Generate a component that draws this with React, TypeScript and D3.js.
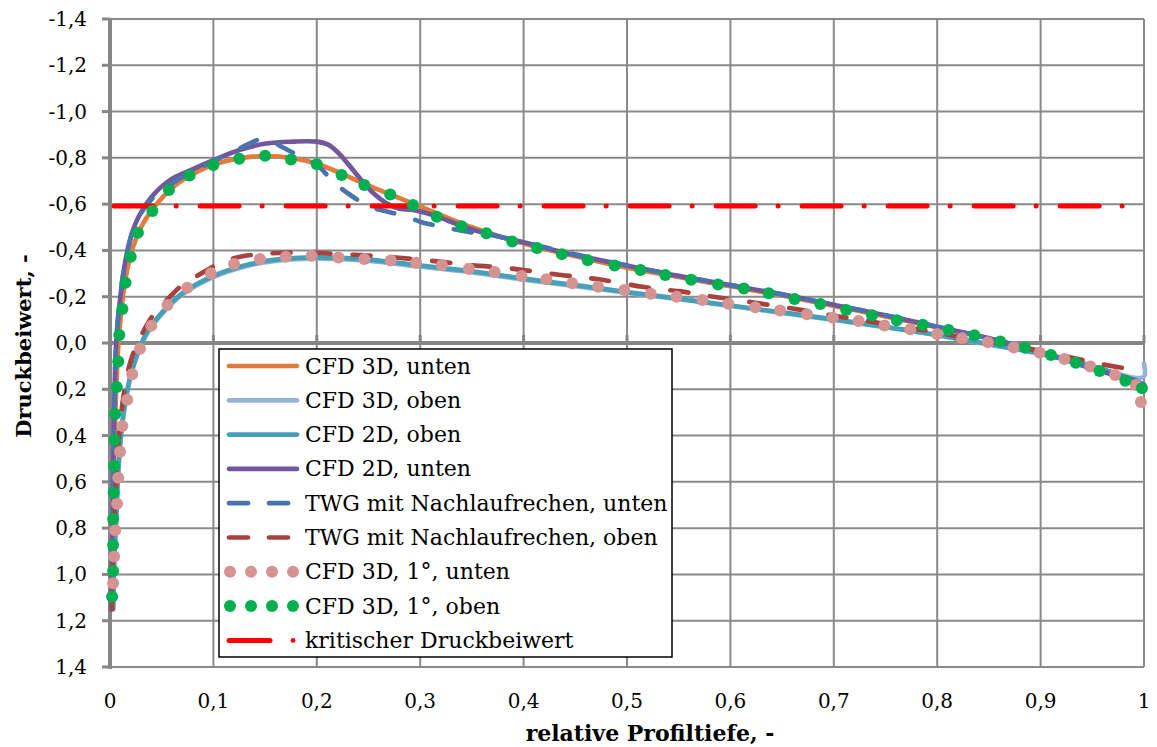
import React from 'react';
import * as d3 from 'd3';

type Pt = [number, number];

// relative Profiltiefe (x) vs. Druckbeiwert (cp)
const cfd3dUnten: Pt[] = [
  [0.0015, 1.12], [0.003, 0.8], [0.004, 0.5], [0.006, 0.2], [0.009, -0.05], [0.014, -0.25],
  [0.02, -0.38], [0.03, -0.5], [0.045, -0.6], [0.06, -0.67], [0.08, -0.73], [0.1, -0.77],
  [0.125, -0.797], [0.15, -0.808], [0.175, -0.8], [0.2, -0.775], [0.225, -0.73], [0.25, -0.68],
  [0.275, -0.635], [0.3, -0.59], [0.35, -0.5], [0.4, -0.43], [0.45, -0.375], [0.5, -0.325],
  [0.55, -0.285], [0.6, -0.245], [0.65, -0.205], [0.7, -0.16], [0.75, -0.115], [0.8, -0.068],
  [0.85, -0.02], [0.9, 0.04], [0.95, 0.105], [1.0, 0.185],
];

const cfd3dOben: Pt[] = [
  [0.003, 1.15], [0.004, 0.95], [0.006, 0.75], [0.008, 0.55], [0.011, 0.38], [0.015, 0.25],
  [0.02, 0.14], [0.027, 0.045], [0.035, -0.035], [0.05, -0.125], [0.07, -0.21], [0.1, -0.285],
  [0.13, -0.33], [0.16, -0.355], [0.2, -0.364], [0.25, -0.355], [0.3, -0.33], [0.35, -0.305],
  [0.4, -0.274], [0.45, -0.246], [0.5, -0.217], [0.55, -0.189], [0.6, -0.16], [0.65, -0.13],
  [0.7, -0.1], [0.75, -0.068], [0.8, -0.033], [0.85, 0.007], [0.9, 0.047], [0.95, 0.1],
  [0.99, 0.15], [1.0, 0.145], [1.0, 0.088],
];

const cfd2dOben: Pt[] = [
  [0.003, 1.15], [0.004, 0.95], [0.006, 0.75], [0.008, 0.55], [0.011, 0.38], [0.015, 0.25],
  [0.02, 0.14], [0.027, 0.04], [0.035, -0.04], [0.05, -0.13], [0.07, -0.215], [0.1, -0.29],
  [0.13, -0.335], [0.16, -0.36], [0.2, -0.37], [0.25, -0.36], [0.3, -0.335], [0.35, -0.31],
  [0.4, -0.278], [0.45, -0.25], [0.5, -0.22], [0.55, -0.192], [0.6, -0.162], [0.65, -0.132],
  [0.7, -0.102], [0.75, -0.07], [0.8, -0.035], [0.85, 0.005], [0.9, 0.045], [0.95, 0.1],
  [0.99, 0.16], [1.0, 0.18],
];

const cfd2dUnten: Pt[] = [
  [0.001, 1.15], [0.002, 0.9], [0.003, 0.6], [0.004, 0.3], [0.006, 0.0], [0.01, -0.2],
  [0.016, -0.38], [0.025, -0.52], [0.04, -0.63], [0.058, -0.704], [0.077, -0.745], [0.1, -0.79],
  [0.126, -0.835], [0.151, -0.862], [0.177, -0.87], [0.2, -0.87], [0.211, -0.857], [0.22, -0.825],
  [0.23, -0.775], [0.242, -0.71], [0.254, -0.65], [0.267, -0.605], [0.28, -0.58], [0.293, -0.575],
  [0.312, -0.553], [0.35, -0.49], [0.4, -0.435], [0.45, -0.38], [0.5, -0.335], [0.55, -0.29],
  [0.6, -0.25], [0.65, -0.21], [0.7, -0.165], [0.75, -0.12], [0.8, -0.07], [0.85, -0.02],
  [0.9, 0.04], [0.95, 0.11], [1.0, 0.18],
];

const twgUnten: Pt[] = [
  [0.001, 1.15], [0.002, 0.9], [0.003, 0.6], [0.004, 0.3], [0.006, 0.0], [0.01, -0.2],
  [0.016, -0.38], [0.025, -0.52], [0.04, -0.62], [0.06, -0.69], [0.08, -0.74], [0.1, -0.785],
  [0.125, -0.84], [0.15, -0.884], [0.166, -0.848], [0.18, -0.815], [0.2, -0.77], [0.216, -0.697],
  [0.23, -0.647], [0.25, -0.592], [0.266, -0.57], [0.285, -0.549], [0.303, -0.52], [0.322, -0.502],
  [0.34, -0.485], [0.37, -0.465], [0.4, -0.435], [0.45, -0.383], [0.5, -0.335], [0.55, -0.29],
  [0.6, -0.25], [0.65, -0.21], [0.7, -0.165], [0.75, -0.12], [0.8, -0.07], [0.85, -0.02],
  [0.9, 0.04], [0.95, 0.11], [1.0, 0.17],
];

const twgOben: Pt[] = [
  [0.002, 1.15], [0.003, 0.9], [0.005, 0.7], [0.007, 0.5], [0.011, 0.3], [0.016, 0.15],
  [0.022, 0.05], [0.03, -0.03], [0.04, -0.11], [0.055, -0.186], [0.07, -0.25], [0.09, -0.305],
  [0.106, -0.344], [0.126, -0.373], [0.145, -0.384], [0.17, -0.39], [0.2, -0.39], [0.22, -0.384],
  [0.25, -0.378], [0.3, -0.36], [0.357, -0.333], [0.378, -0.327], [0.4, -0.315], [0.436, -0.294],
  [0.457, -0.284], [0.477, -0.272], [0.515, -0.243], [0.533, -0.232], [0.554, -0.222],
  [0.573, -0.207], [0.61, -0.183], [0.668, -0.143], [0.705, -0.114], [0.725, -0.1], [0.8, -0.045],
  [0.841, -0.01], [0.873, 0.01], [0.9, 0.035], [0.94, 0.073], [0.955, 0.088], [0.984, 0.111],
];

const cfd3d1Unten: Pt[] = [
  [0.003, 1.038], [0.004, 0.923], [0.005, 0.809], [0.0068, 0.695], [0.008, 0.582], [0.0097, 0.47],
  [0.012, 0.359], [0.0167, 0.245], [0.0215, 0.135], [0.029, 0.025], [0.04, -0.075], [0.0556, -0.164],
  [0.0747, -0.239], [0.0975, -0.301], [0.12, -0.341], [0.145, -0.363], [0.17, -0.373], [0.195, -0.377],
  [0.221, -0.369], [0.246, -0.363], [0.2715, -0.356], [0.296, -0.347], [0.321, -0.337], [0.347, -0.321],
  [0.372, -0.307], [0.398, -0.289], [0.422, -0.275], [0.447, -0.258], [0.472, -0.243], [0.4975, -0.229],
  [0.523, -0.213], [0.548, -0.2], [0.573, -0.186], [0.598, -0.17], [0.624, -0.154], [0.648, -0.14],
  [0.674, -0.124], [0.699, -0.109], [0.724, -0.095], [0.749, -0.076], [0.774, -0.059], [0.8, -0.039],
  [0.824, -0.02], [0.849, -0.003], [0.874, 0.019], [0.899, 0.042], [0.923, 0.069], [0.948, 0.102],
  [0.972, 0.138], [0.992, 0.181], [0.997, 0.255],
];

const cfd3d1Oben: Pt[] = [
  [0.002, 1.096], [0.003, 0.985], [0.003, 0.873], [0.003, 0.76], [0.0035, 0.647], [0.004, 0.531],
  [0.0045, 0.419], [0.005, 0.307], [0.0065, 0.19], [0.008, 0.08], [0.009, -0.035], [0.012, -0.147],
  [0.015, -0.26], [0.02, -0.373], [0.027, -0.476], [0.041, -0.57], [0.057, -0.661], [0.077, -0.724],
  [0.1, -0.769], [0.125, -0.796], [0.15, -0.809], [0.175, -0.793], [0.2, -0.772], [0.224, -0.726],
  [0.246, -0.683], [0.271, -0.642], [0.293, -0.596], [0.316, -0.546], [0.34, -0.505], [0.364, -0.474],
  [0.389, -0.439], [0.413, -0.41], [0.437, -0.384], [0.462, -0.358], [0.488, -0.335], [0.513, -0.315],
  [0.537, -0.294], [0.562, -0.273], [0.588, -0.253], [0.613, -0.235], [0.637, -0.215], [0.662, -0.19],
  [0.687, -0.168], [0.712, -0.143], [0.737, -0.12], [0.761, -0.098], [0.786, -0.079], [0.811, -0.056],
  [0.836, -0.033], [0.861, -0.007], [0.885, 0.02], [0.91, 0.052], [0.934, 0.085], [0.957, 0.121],
  [0.982, 0.163], [0.998, 0.195],
];

const kritisch: Pt[] = [[0.004, -0.592], [0.985, -0.592]];

const xTickValues = [0, 0.1, 0.2, 0.3, 0.4, 0.5, 0.6, 0.7, 0.8, 0.9, 1];
const xTickLabels = ['0', '0,1', '0,2', '0,3', '0,4', '0,5', '0,6', '0,7', '0,8', '0,9', '1'];
const yTickValues = [-1.4, -1.2, -1.0, -0.8, -0.6, -0.4, -0.2, 0, 0.2, 0.4, 0.6, 0.8, 1.0, 1.2, 1.4];
const yTickLabels = ['-1,4', '-1,2', '-1,0', '-0,8', '-0,6', '-0,4', '-0,2', '0,0', '0,2', '0,4', '0,6', '0,8', '1,0', '1,2', '1,4'];

const FONT = '"DejaVu Serif", serif';

interface Series {
  name: string;
  data: Pt[];
  color: string;
  kind: 'solid' | 'dash' | 'dot' | 'dashdot';
}

const series: Series[] = [
  { name: 'CFD 3D, unten', data: cfd3dUnten, color: '#E07D3C', kind: 'solid' },
  { name: 'CFD 3D, oben', data: cfd3dOben, color: '#95B3D7', kind: 'solid' },
  { name: 'CFD 2D, oben', data: cfd2dOben, color: '#45A0B8', kind: 'solid' },
  { name: 'CFD 2D, unten', data: cfd2dUnten, color: '#71589B', kind: 'solid' },
  { name: 'TWG mit Nachlaufrechen, unten', data: twgUnten, color: '#4A74AE', kind: 'dash' },
  { name: 'TWG mit Nachlaufrechen, oben', data: twgOben, color: '#A8423F', kind: 'dash' },
  { name: 'CFD 3D, 1°, unten', data: cfd3d1Unten, color: '#D59492', kind: 'dot' },
  { name: 'CFD 3D, 1°, oben', data: cfd3d1Oben, color: '#00B050', kind: 'dot' },
  { name: 'kritischer Druckbeiwert', data: kritisch, color: '#FF0000', kind: 'dashdot' },
];

// draw order: lines first, critical line, then the dotted series on top
const drawOrder = [0, 1, 2, 3, 4, 5, 8, 6, 7];

const DOT_R = 6;

const App: React.FC = () => {
  const width = 1157;
  const height = 747;
  const x = d3.scaleLinear().domain([0, 1]).range([110, 1144]);
  const y = d3.scaleLinear().domain([-1.4, 1.4]).range([19, 667]);

  const line = d3
    .line<Pt>()
    .x((d) => x(d[0]))
    .y((d) => y(d[1]))
    .curve(d3.curveCatmullRom.alpha(0.5));

  const gridColor = '#8A8A8A';
  const axisColor = '#868686';

  const renderSeries = (s: Series, i: number) => {
    if (s.kind === 'dot') {
      return (
        <g key={i}>
          {s.data.map((d, j) => (
            <circle key={j} cx={x(d[0])} cy={y(d[1])} r={DOT_R} fill={s.color} />
          ))}
        </g>
      );
    }
    if (s.kind === 'dashdot') {
      return (
        <path
          key={i}
          d={d3.line<Pt>().x((d) => x(d[0])).y((d) => y(d[1]))(s.data) || ''}
          fill="none"
          stroke={s.color}
          strokeWidth={5}
          strokeLinecap="round"
          strokeDasharray="39 23 0 24"
        />
      );
    }
    return (
      <path
        key={i}
        d={line(s.data) || ''}
        fill="none"
        stroke={s.color}
        strokeWidth={4.7}
        strokeLinecap="round"
        strokeLinejoin="round"
        strokeDasharray={s.kind === 'dash' ? '18 22' : undefined}
      />
    );
  };

  // legend geometry
  const lgX = 219;
  const lgY = 349;
  const lgW = 453;
  const lgH = 308;
  const rowY0 = 366;
  const rowStep = 34.3;

  const legendSample = (s: Series, cy: number) => {
    if (s.kind === 'dot') {
      return [230, 251, 272, 293].map((cx) => (
        <circle key={cx} cx={cx} cy={cy} r={DOT_R} fill={s.color} />
      ));
    }
    if (s.kind === 'dashdot') {
      return (
        <g>
          <line x1={229} x2={270} y1={cy} y2={cy} stroke={s.color} strokeWidth={5} strokeLinecap="round" />
          <circle cx={293} cy={cy} r={2.4} fill={s.color} />
        </g>
      );
    }
    if (s.kind === 'dash') {
      return (
        <g>
          <line x1={229} x2={248} y1={cy} y2={cy} stroke={s.color} strokeWidth={4.7} strokeLinecap="round" />
          <line x1={269} x2={288} y1={cy} y2={cy} stroke={s.color} strokeWidth={4.7} strokeLinecap="round" />
        </g>
      );
    }
    return <line x1={229} x2={297} y1={cy} y2={cy} stroke={s.color} strokeWidth={4.7} strokeLinecap="round" />;
  };

  return (
    <div style={{ position: 'absolute', left: 0, top: 0 }}>
      <svg width={width} height={height} style={{ display: 'block', background: '#fff' }}>
        {/* grid */}
        {yTickValues.map((v) => (
          <line key={`gy${v}`} x1={x(0)} x2={x(1)} y1={y(v)} y2={y(v)} stroke={gridColor} strokeWidth={2} />
        ))}
        {xTickValues.map((v) => (
          <line key={`gx${v}`} x1={x(v)} x2={x(v)} y1={y(-1.4)} y2={y(1.4)} stroke={gridColor} strokeWidth={2} />
        ))}

        {/* axes */}
        <line x1={x(0)} x2={x(0)} y1={y(-1.4) - 1} y2={y(1.4) + 2} stroke={axisColor} strokeWidth={4} />
        <line x1={x(0) - 2} x2={x(1) + 1} y1={y(0)} y2={y(0)} stroke={axisColor} strokeWidth={4} />
        {yTickValues.map((v) => (
          <line key={`ty${v}`} x1={x(0) - 8} x2={x(0)} y1={y(v)} y2={y(v)} stroke={axisColor} strokeWidth={3} />
        ))}
        {xTickValues.map((v) => (
          <line key={`tx${v}`} x1={x(v)} x2={x(v)} y1={y(0) - 8} y2={y(0)} stroke={axisColor} strokeWidth={3} />
        ))}

        {/* tick labels */}
        {yTickValues.map((v, i) => (
          <text
            key={`ly${v}`}
            x={87}
            y={y(v)}
            textAnchor="end"
            dominantBaseline="central"
            fontFamily={FONT}
            fontSize={20}
            fill="#000"
          >
            {yTickLabels[i]}
          </text>
        ))}
        {xTickValues.map((v, i) => (
          <text
            key={`lx${v}`}
            x={x(v)}
            y={701}
            textAnchor="middle"
            dominantBaseline="central"
            fontFamily={FONT}
            fontSize={20}
            fill="#000"
          >
            {xTickLabels[i]}
          </text>
        ))}

        {/* series */}
        {drawOrder.map((idx) => renderSeries(series[idx], idx))}

        {/* legend */}
        <rect x={lgX} y={lgY} width={lgW} height={lgH} fill="#fff" stroke="#000" strokeWidth={1.5} />
        {series.map((s, i) => {
          const cy = rowY0 + i * rowStep;
          return (
            <g key={`lg${i}`}>
              {legendSample(s, cy)}
              <text x={305} y={cy} dominantBaseline="central" fontFamily={FONT} fontSize={22} fill="#000">
                {s.name}
              </text>
            </g>
          );
        })}

        {/* axis titles */}
        <text
          x={650}
          y={733}
          textAnchor="middle"
          dominantBaseline="central"
          fontFamily={FONT}
          fontWeight="bold"
          fontSize={22}
          fill="#000"
        >
          relative Profiltiefe, -
        </text>
        <text
          transform={`translate(23,346) rotate(-90)`}
          textAnchor="middle"
          dominantBaseline="central"
          fontFamily={FONT}
          fontWeight="bold"
          fontSize={21}
          fill="#000"
        >
          Druckbeiwert, -
        </text>
      </svg>
    </div>
  );
};

export default App;
